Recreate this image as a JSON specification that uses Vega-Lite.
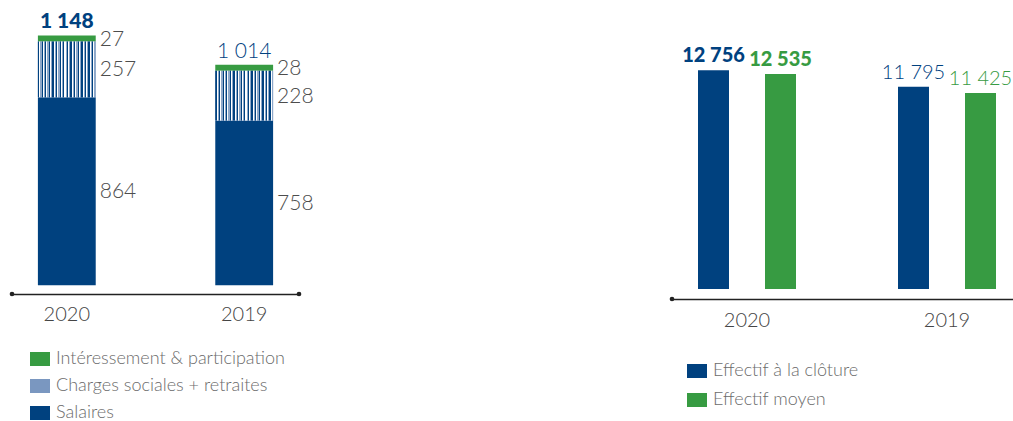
{
  "$schema": "https://vega.github.io/schema/vega-lite/v6.json",
  "padding": {"left": 9, "top": 10, "right": 0, "bottom": 0},
  "bounds": "flush",
  "spacing": 373,
  "config": {
    "view": {"stroke": null},
    "font": "Lato",
    "locale": {"number": {"decimal": ",", "thousands": " ", "grouping": [3], "currency": ["", " €"]}},
    "axis": {"labelFont": "Lato", "labelFontWeight": 300},
    "legend": {"labelFont": "Lato", "labelLimit": 0, "labelFontWeight": 300}
  },
  "datasets": {
    "salary": [
      {"year": "2020", "series": "Salaires", "value": 864},
      {"year": "2020", "series": "Charges sociales + retraites", "value": 257},
      {"year": "2020", "series": "Intéressement & participation", "value": 27},
      {"year": "2019", "series": "Salaires", "value": 758},
      {"year": "2019", "series": "Charges sociales + retraites", "value": 228},
      {"year": "2019", "series": "Intéressement & participation", "value": 28}
    ],
    "staff": [
      {"year": "2020", "series": "Effectif à la clôture", "value": 12756},
      {"year": "2020", "series": "Effectif moyen", "value": 12535},
      {"year": "2019", "series": "Effectif à la clôture", "value": 11795},
      {"year": "2019", "series": "Effectif moyen", "value": 11425}
    ]
  },
  "resolve": {"scale": {"color": "independent", "x": "independent", "y": "independent"}, "legend": {"color": "independent"}},
  "hconcat": [
    {
      "width": 287,
      "height": 283,
      "data": {"name": "salary"},
      "layer": [
        {
          "transform": [
            {"calculate": "indexof(['Salaires','Charges sociales + retraites','Intéressement & participation'], datum.series)", "as": "rank"},
            {"stack": "value", "groupby": ["year"], "sort": [{"field": "rank", "order": "ascending"}], "as": ["v0", "v1"]}
          ],
          "mark": {"type": "bar"},
          "encoding": {
            "x": {"field": "year", "type": "nominal", "sort": ["2020", "2019"],
              "scale": {"paddingInner": 0.674, "paddingOuter": 0.146},
              "axis": {"title": null, "domainColor": "#222", "domainWidth": 1.5, "ticks": false, "labelFontSize": 20, "labelColor": "#444", "labelPadding": 10, "labelAngle": 0}},
            "y": {"field": "v1", "type": "quantitative", "scale": {"domain": [-40, 1261], "nice": false, "zero": false}, "axis": null},
            "y2": {"field": "v0"},
            "color": {
              "field": "series", "type": "nominal",
              "scale": {
                "domain": ["Intéressement & participation", "Charges sociales + retraites", "Salaires"],
                "range": ["#379b42", "#7a97c0", "#00417f"]
              },
              "legend": {"orient": "none", "legendX": 18, "legendY": 338, "title": null, "symbolType": "M-1,-0.7H1V0.7H-1Z", "symbolSize": 400, "symbolStrokeWidth": 0, "labelFontSize": 18, "labelColor": "#6b6b6b", "rowPadding": 8, "labelOffset": 6}
            }
          }
        },
        {
          "transform": [
            {"calculate": "indexof(['Salaires','Charges sociales + retraites','Intéressement & participation'], datum.series)", "as": "rank"},
            {"stack": "value", "groupby": ["year"], "sort": [{"field": "rank", "order": "ascending"}], "as": ["v0", "v1"]},
            {"filter": "datum.series === 'Charges sociales + retraites'"}
          ],
          "mark": {"type": "bar", "color": {"gradient": "linear", "x1": 0, "y1": 0, "x2": 1, "y2": 0, "stops": [
                    {"offset": 0, "color": "#00417f"}, {"offset": 0.022, "color": "#00417f"}, {"offset": 0.022, "color": "#ffffff"}, {"offset": 0.04, "color": "#ffffff"}, {"offset": 0.04, "color": "#8ea8c9"}, {"offset": 0.0625, "color": "#8ea8c9"},
                    {"offset": 0.0625, "color": "#00417f"}, {"offset": 0.0845, "color": "#00417f"}, {"offset": 0.0845, "color": "#ffffff"}, {"offset": 0.1025, "color": "#ffffff"}, {"offset": 0.1025, "color": "#8ea8c9"}, {"offset": 0.125, "color": "#8ea8c9"},
                    {"offset": 0.125, "color": "#00417f"}, {"offset": 0.147, "color": "#00417f"}, {"offset": 0.147, "color": "#ffffff"}, {"offset": 0.165, "color": "#ffffff"}, {"offset": 0.165, "color": "#8ea8c9"}, {"offset": 0.1875, "color": "#8ea8c9"},
                    {"offset": 0.1875, "color": "#00417f"}, {"offset": 0.2095, "color": "#00417f"}, {"offset": 0.2095, "color": "#ffffff"}, {"offset": 0.2275, "color": "#ffffff"}, {"offset": 0.2275, "color": "#8ea8c9"}, {"offset": 0.25, "color": "#8ea8c9"},
                    {"offset": 0.25, "color": "#00417f"}, {"offset": 0.272, "color": "#00417f"}, {"offset": 0.272, "color": "#ffffff"}, {"offset": 0.29, "color": "#ffffff"}, {"offset": 0.29, "color": "#8ea8c9"}, {"offset": 0.3125, "color": "#8ea8c9"},
                    {"offset": 0.3125, "color": "#00417f"}, {"offset": 0.3345, "color": "#00417f"}, {"offset": 0.3345, "color": "#ffffff"}, {"offset": 0.3525, "color": "#ffffff"}, {"offset": 0.3525, "color": "#8ea8c9"}, {"offset": 0.375, "color": "#8ea8c9"},
                    {"offset": 0.375, "color": "#00417f"}, {"offset": 0.397, "color": "#00417f"}, {"offset": 0.397, "color": "#ffffff"}, {"offset": 0.415, "color": "#ffffff"}, {"offset": 0.415, "color": "#8ea8c9"}, {"offset": 0.4375, "color": "#8ea8c9"},
                    {"offset": 0.4375, "color": "#00417f"}, {"offset": 0.4595, "color": "#00417f"}, {"offset": 0.4595, "color": "#ffffff"}, {"offset": 0.4775, "color": "#ffffff"}, {"offset": 0.4775, "color": "#8ea8c9"}, {"offset": 0.5, "color": "#8ea8c9"},
                    {"offset": 0.5, "color": "#00417f"}, {"offset": 0.522, "color": "#00417f"}, {"offset": 0.522, "color": "#ffffff"}, {"offset": 0.54, "color": "#ffffff"}, {"offset": 0.54, "color": "#8ea8c9"}, {"offset": 0.5625, "color": "#8ea8c9"},
                    {"offset": 0.5625, "color": "#00417f"}, {"offset": 0.5845, "color": "#00417f"}, {"offset": 0.5845, "color": "#ffffff"}, {"offset": 0.6025, "color": "#ffffff"}, {"offset": 0.6025, "color": "#8ea8c9"}, {"offset": 0.625, "color": "#8ea8c9"},
                    {"offset": 0.625, "color": "#00417f"}, {"offset": 0.647, "color": "#00417f"}, {"offset": 0.647, "color": "#ffffff"}, {"offset": 0.665, "color": "#ffffff"}, {"offset": 0.665, "color": "#8ea8c9"}, {"offset": 0.6875, "color": "#8ea8c9"},
                    {"offset": 0.6875, "color": "#00417f"}, {"offset": 0.7095, "color": "#00417f"}, {"offset": 0.7095, "color": "#ffffff"}, {"offset": 0.7275, "color": "#ffffff"}, {"offset": 0.7275, "color": "#8ea8c9"}, {"offset": 0.75, "color": "#8ea8c9"},
                    {"offset": 0.75, "color": "#00417f"}, {"offset": 0.772, "color": "#00417f"}, {"offset": 0.772, "color": "#ffffff"}, {"offset": 0.79, "color": "#ffffff"}, {"offset": 0.79, "color": "#8ea8c9"}, {"offset": 0.8125, "color": "#8ea8c9"},
                    {"offset": 0.8125, "color": "#00417f"}, {"offset": 0.8345, "color": "#00417f"}, {"offset": 0.8345, "color": "#ffffff"}, {"offset": 0.8525, "color": "#ffffff"}, {"offset": 0.8525, "color": "#8ea8c9"}, {"offset": 0.875, "color": "#8ea8c9"},
                    {"offset": 0.875, "color": "#00417f"}, {"offset": 0.897, "color": "#00417f"}, {"offset": 0.897, "color": "#ffffff"}, {"offset": 0.915, "color": "#ffffff"}, {"offset": 0.915, "color": "#8ea8c9"}, {"offset": 0.9375, "color": "#8ea8c9"},
                    {"offset": 0.9375, "color": "#00417f"}, {"offset": 0.9595, "color": "#00417f"}, {"offset": 0.9595, "color": "#ffffff"}, {"offset": 0.9775, "color": "#ffffff"}, {"offset": 0.9775, "color": "#8ea8c9"}, {"offset": 1, "color": "#8ea8c9"}
                  ]}},
          "encoding": {
            "x": {"field": "year", "type": "nominal", "sort": ["2020", "2019"]},
            "y": {"field": "v1", "type": "quantitative"},
            "y2": {"field": "v0"}
          }
        },
        {
          "transform": [
            {"calculate": "indexof(['Salaires','Charges sociales + retraites','Intéressement & participation'], datum.series)", "as": "rank"},
            {"stack": "value", "groupby": ["year"], "sort": [{"field": "rank", "order": "ascending"}], "as": ["v0", "v1"]},
            {"calculate": "(datum.v0 + datum.v1) / 2", "as": "mid"}
          ],
          "mark": {"type": "text", "align": "left", "baseline": "middle", "dx": 4, "dy": 1, "fontSize": 21, "color": "#4d4d4d", "fontWeight": 300},
          "encoding": {
            "x": {"field": "year", "type": "nominal", "sort": ["2020", "2019"], "bandPosition": 1},
            "y": {"field": "mid", "type": "quantitative"},
            "text": {"field": "value", "type": "quantitative", "format": ",d"}
          }
        },
        {
          "transform": [
            {"aggregate": [{"op": "sum", "field": "value", "as": "total"}], "groupby": ["year"]},
            {"filter": "datum.year === '2020'"}
          ],
          "mark": {"type": "text", "baseline": "alphabetic", "dy": -8, "fontSize": 21, "fontWeight": 900, "color": "#00417f"},
          "encoding": {
            "x": {"field": "year", "type": "nominal", "sort": ["2020", "2019"]},
            "y": {"field": "total", "type": "quantitative"},
            "text": {"field": "total", "type": "quantitative", "format": ",d"}
          }
        },
        {
          "transform": [
            {"aggregate": [{"op": "sum", "field": "value", "as": "total"}], "groupby": ["year"]},
            {"filter": "datum.year === '2019'"}
          ],
          "mark": {"type": "text", "baseline": "alphabetic", "dy": -7, "fontSize": 21, "fontWeight": 300, "color": "#00417f"},
          "encoding": {
            "x": {"field": "year", "type": "nominal", "sort": ["2020", "2019"]},
            "y": {"field": "total", "type": "quantitative"},
            "text": {"field": "total", "type": "quantitative", "format": ",d"}
          }
        },
        {
          "data": {"values": [{}]},
          "mark": {"type": "point", "filled": true, "size": 22, "color": "#222222", "opacity": 1},
          "encoding": {"x": {"value": 0}, "y": {"value": "height"}}
        },
        {
          "data": {"values": [{}]},
          "mark": {"type": "point", "filled": true, "size": 22, "color": "#222222", "opacity": 1},
          "encoding": {"x": {"value": "width"}, "y": {"value": "height"}}
        }
      ]
    },
    {
      "width": 350,
      "height": 288,
      "data": {"name": "staff"},
      "layer": [
        {
          "mark": {"type": "bar", "width": 31},
          "encoding": {
            "x": {"field": "year", "type": "nominal", "sort": ["2020", "2019"],
              "scale": {"paddingInner": 0.33, "paddingOuter": 0.04},
              "axis": {"title": null, "domainColor": "#222", "domainWidth": 1.5, "ticks": false, "labelFontSize": 20, "labelColor": "#444", "labelPadding": 11, "labelAngle": 0}},
            "xOffset": {"field": "series", "type": "nominal", "sort": ["Effectif à la clôture", "Effectif moyen"], "scale": {"paddingInner": 0, "paddingOuter": 0}},
            "y": {"field": "value", "type": "quantitative", "scale": {"domain": [-583, 16215], "nice": false, "zero": false}, "axis": null},
            "color": {
              "field": "series", "type": "nominal",
              "scale": {"domain": ["Effectif à la clôture", "Effectif moyen"], "range": ["#00417f", "#379b42"]},
              "legend": {"orient": "none", "legendX": 15, "legendY": 350, "title": null, "symbolType": "M-1,-0.7H1V0.7H-1Z", "symbolSize": 400, "symbolStrokeWidth": 0, "labelFontSize": 18, "labelColor": "#6b6b6b", "rowPadding": 10, "labelOffset": 6}
            }
          }
        },
        {
          "transform": [{"filter": "datum.year === '2020'"}],
          "mark": {"type": "text", "baseline": "alphabetic", "dy": -8, "fontSize": 20, "fontWeight": 900},
          "encoding": {
            "x": {"field": "year", "type": "nominal", "sort": ["2020", "2019"]},
            "xOffset": {"field": "series", "type": "nominal", "sort": ["Effectif à la clôture", "Effectif moyen"]},
            "y": {"field": "value", "type": "quantitative"},
            "text": {"field": "value", "type": "quantitative", "format": ",d"},
            "color": {"field": "series", "type": "nominal", "legend": null}
          }
        },
        {
          "transform": [{"filter": "datum.year === '2019'"}],
          "mark": {"type": "text", "baseline": "alphabetic", "dy": -8, "fontSize": 20, "fontWeight": 300},
          "encoding": {
            "x": {"field": "year", "type": "nominal", "sort": ["2020", "2019"]},
            "xOffset": {"field": "series", "type": "nominal", "sort": ["Effectif à la clôture", "Effectif moyen"]},
            "y": {"field": "value", "type": "quantitative"},
            "text": {"field": "value", "type": "quantitative", "format": ",d"},
            "color": {"field": "series", "type": "nominal", "legend": null}
          }
        },
        {
          "data": {"values": [{}]},
          "mark": {"type": "point", "filled": true, "size": 22, "color": "#222222", "opacity": 1},
          "encoding": {"x": {"value": 0}, "y": {"value": "height"}}
        }
      ]
    }
  ]
}
